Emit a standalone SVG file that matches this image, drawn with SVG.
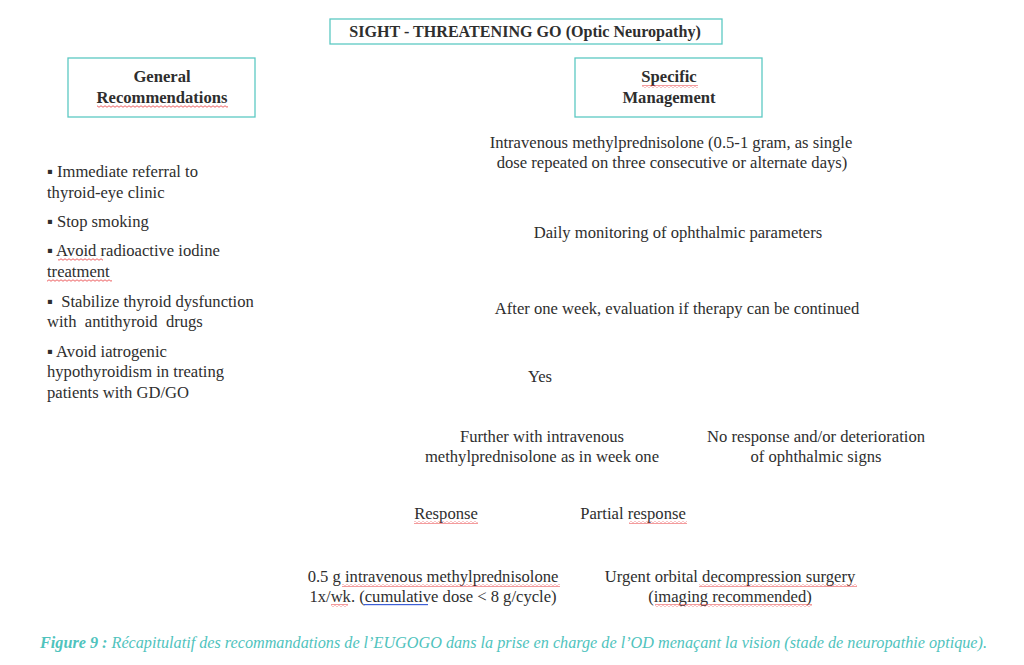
<svg xmlns="http://www.w3.org/2000/svg" width="1024" height="665" viewBox="0 0 1024 665">
<defs>
<style>
.box{fill:#fff;stroke:#5cc9c3;stroke-width:1.3}
.t{font-family:"Liberation Serif","Times New Roman",serif;font-size:16.6px;fill:#2e2e2e}
.b{font-weight:bold}
.h{font-size:16.1px}
.c{text-anchor:middle}
.cap{font-family:"Liberation Serif","Times New Roman",serif;font-style:italic;font-size:16px;fill:#4fc3bd}
.wavy{fill:url(#wave)}
</style>
<pattern id="wave" width="4" height="3" patternUnits="userSpaceOnUse">
<path d="M0,1.5 Q1,0 2,1.5 T4,1.5" fill="none" stroke="#e8373a" stroke-width="0.8"/>
</pattern>
</defs>
<rect width="1024" height="665" fill="#fff"/>

<g id="title">
<rect class="box" x="330" y="19" width="392" height="25"/>
<text class="t b h c" x="525" y="37">SIGHT - THREATENING GO (Optic Neuropathy)</text>
</g>

<g id="general">
<rect class="box" x="68" y="58" width="187" height="59"/>
<text class="t b c" x="162" y="82">General</text>
<text class="t b c" x="162" y="103">Recommendations</text>
<rect class="wavy" x="97" y="105" width="131" height="3"/>
</g>

<g id="specific">
<rect class="box" x="575" y="58" width="187" height="59"/>
<text class="t b c" x="669" y="82">Specific</text>
<text class="t b c" x="669" y="103">Management</text>
<rect class="wavy" x="642" y="85" width="56" height="3"/>
</g>

<g id="general-list">
<text class="t" x="47" y="177">▪ Immediate referral to</text>
<text class="t" x="47" y="198">thyroid-eye clinic</text>
<text class="t" x="47" y="227">▪ Stop smoking</text>
<text class="t" x="47" y="256">▪ Avoid radioactive iodine</text>
<text class="t" x="47" y="277">treatment</text>
<rect class="wavy" x="58" y="258" width="45" height="3"/>
<rect class="wavy" x="47" y="279" width="65" height="3"/>
<text class="t" x="47" y="307" xml:space="preserve">▪  Stabilize thyroid dysfunction</text>
<text class="t" x="47" y="327" xml:space="preserve">with  antithyroid  drugs</text>
<text class="t" x="47" y="357">▪ Avoid iatrogenic</text>
<text class="t" x="47" y="377">hypothyroidism in treating</text>
<text class="t" x="47" y="398">patients with GD/GO</text>
</g>

<g id="ivmp">
<text class="t c" x="671" y="148">Intravenous methylprednisolone (0.5-1 gram, as single</text>
<text class="t c" x="672" y="168">dose repeated on three consecutive or alternate days)</text>
</g>

<g id="monitoring">
<text class="t c" x="678" y="238">Daily monitoring of ophthalmic parameters</text>
</g>

<g id="evaluation">
<text class="t c" x="677" y="314">After one week, evaluation if therapy can be continued</text>
</g>

<g id="yes">
<text class="t c" x="540" y="382">Yes</text>
</g>

<g id="further">
<text class="t c" x="542" y="442">Further with intravenous</text>
<text class="t c" x="542" y="462">methylprednisolone as in week one</text>
</g>

<g id="no-response">
<text class="t c" x="816" y="442">No response and/or deterioration</text>
<text class="t c" x="816" y="462">of ophthalmic signs</text>
</g>

<g id="response">
<text class="t c" x="446" y="519">Response</text>
<rect class="wavy" x="414" y="521" width="64" height="3"/>
</g>

<g id="partial">
<text class="t c" x="633" y="519">Partial response</text>
<rect class="wavy" x="629" y="521" width="58" height="3"/>
</g>

<g id="maintenance">
<text class="t c" x="433" y="582">0.5 g intravenous methylprednisolone</text>
<text class="t c" x="433" y="602">1x/wk. (cumulative dose &lt; 8 g/cycle)</text>
<rect class="wavy" x="342" y="584" width="218" height="3"/>
<rect class="wavy" x="331" y="604" width="17" height="3"/>
<rect x="364" y="604" width="64" height="1.2" fill="#3d5fd6"/>
</g>

<g id="surgery">
<text class="t c" x="730" y="582">Urgent orbital decompression surgery</text>
<text class="t c" x="730" y="602">(imaging recommended)</text>
<rect class="wavy" x="699" y="584" width="158" height="3"/>
<rect class="wavy" x="655" y="604" width="157" height="3"/>
</g>

<g id="connectors"></g>

<text class="cap" x="40" y="648" textLength="947" lengthAdjust="spacingAndGlyphs"><tspan font-weight="bold">Figure 9 :</tspan> Récapitulatif des recommandations de l’EUGOGO dans la prise en charge de l’OD menaçant la vision (stade de neuropathie optique).</text>
</svg>
